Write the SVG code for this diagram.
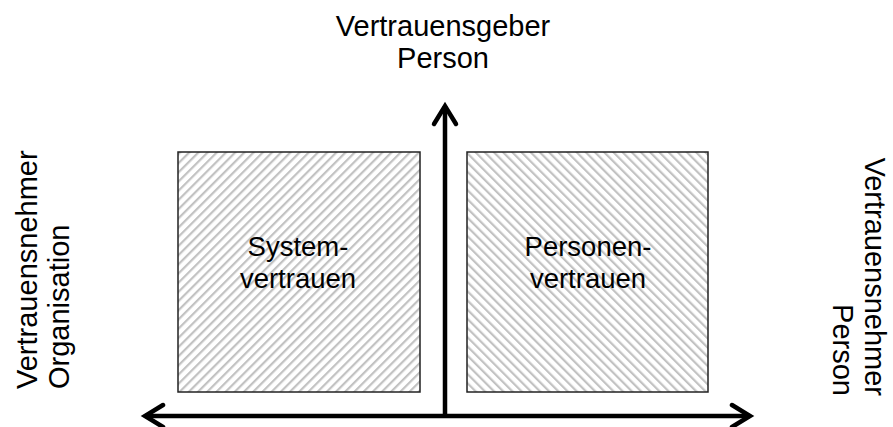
<svg xmlns="http://www.w3.org/2000/svg" width="893" height="427" viewBox="0 0 893 427">
<style>
text{font-family:"Liberation Sans",Arial,sans-serif;font-size:27.5px;fill:#000;}
.outer{font-size:29px;}
.box{stroke:#222;stroke-width:1.5;}
.axis{stroke:#000;stroke-width:4.5;fill:none;stroke-linecap:butt;}
.head{stroke:#000;stroke-width:4.5;fill:none;stroke-linecap:round;stroke-linejoin:miter;}
</style>
<defs>
<pattern id="hatchL" width="6.5" height="6.5" patternUnits="userSpaceOnUse" patternTransform="rotate(45)">
<rect width="6.5" height="6.5" fill="#fff"/>
<rect x="0" y="0" width="2.2" height="6.5" fill="#c2c2c2"/>
</pattern>
<pattern id="hatchR" width="6.5" height="6.5" patternUnits="userSpaceOnUse" patternTransform="rotate(-45)">
<rect width="6.5" height="6.5" fill="#fff"/>
<rect x="0" y="0" width="2.2" height="6.5" fill="#c2c2c2"/>
</pattern>
</defs>
<rect width="893" height="427" fill="#fff"/>
<g id="node-system">
<rect class="box" x="178" y="152" width="242" height="240" fill="url(#hatchL)"/>
<text x="298" y="256" text-anchor="middle">System-</text>
<text x="298" y="288" text-anchor="middle">vertrauen</text>
</g>
<g id="node-person">
<rect class="box" x="467" y="152" width="241" height="240" fill="url(#hatchR)"/>
<text x="588" y="256" text-anchor="middle">Personen-</text>
<text x="588" y="288" text-anchor="middle">vertrauen</text>
</g>
<g id="label-top">
<text class="outer" x="443" y="36" text-anchor="middle">Vertrauensgeber</text>
<text class="outer" x="443" y="68" text-anchor="middle">Person</text>
</g>
<g id="label-left">
<text class="outer" transform="translate(37,389) rotate(-90)" text-anchor="start">Vertrauensnehmer</text>
<text class="outer" transform="translate(69,389) rotate(-90)" text-anchor="start">Organisation</text>
</g>
<g id="label-right">
<text class="outer" transform="translate(865,396) rotate(90)" text-anchor="end">Vertrauensnehmer</text>
<text class="outer" transform="translate(833,396) rotate(90)" text-anchor="end">Person</text>
</g>
<g id="connectors">
<line class="axis" x1="445" y1="416" x2="445" y2="106"/>
<polyline class="head" points="434,124 445,106 456,124"/>
<line class="axis" x1="145" y1="416" x2="750" y2="416"/>
<polyline class="head" points="163,405 145,416 163,427"/>
<polyline class="head" points="732,405 750,416 732,427"/>
</g>
</svg>
